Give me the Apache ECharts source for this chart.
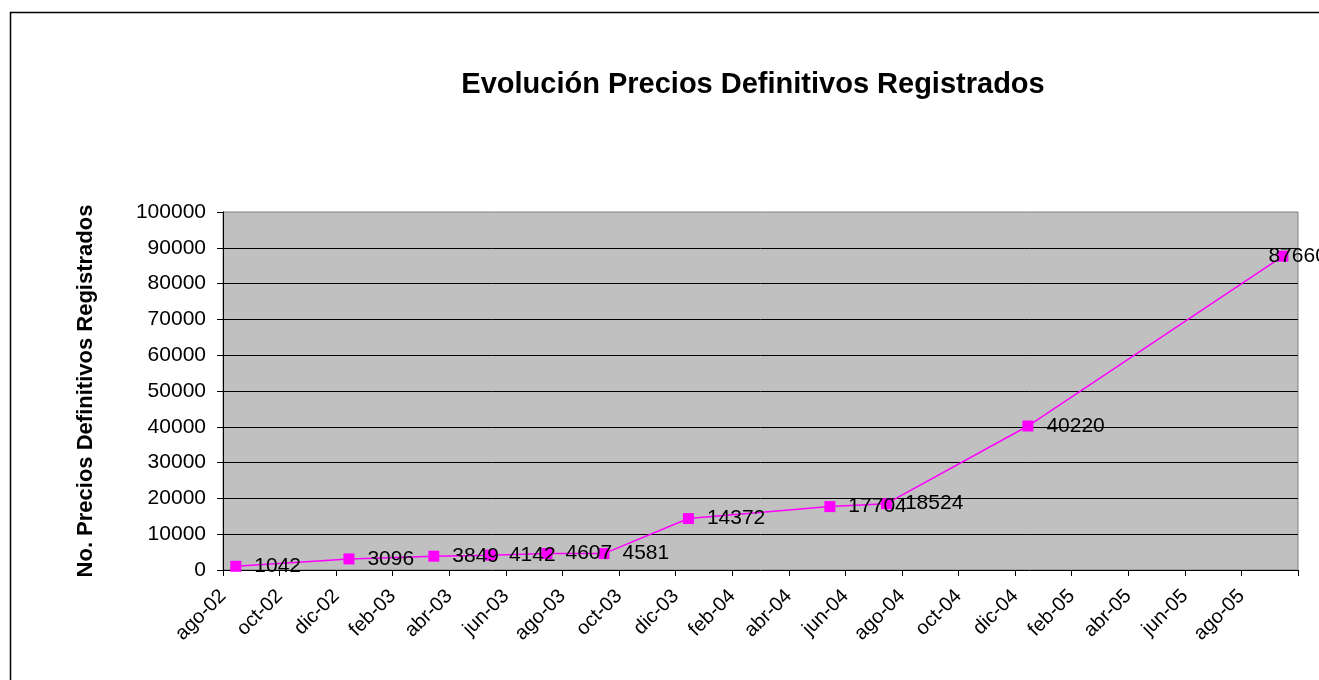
<!DOCTYPE html>
<html>
<head>
<meta charset="utf-8">
<script src="https://cdn.jsdelivr.net/npm/echarts@6/dist/echarts.min.js"></script>
<style>
html,body{margin:0;padding:0;background:#fff;}
#chart{width:1319px;height:680px;}
</style>
</head>
<body>
<div id="chart"></div>
<script>
// Data
var dates = ['2002-08-15','2002-12-15','2003-03-15','2003-05-15','2003-07-15','2003-09-15','2003-12-15','2004-05-15','2004-07-15','2004-12-15','2005-09-15'];
var values = [1042, 3096, 3849, 4142, 4607, 4581, 14372, 17704, 18524, 40220, 87660];
var tickLabels = ['ago-02','oct-02','dic-02','feb-03','abr-03','jun-03','ago-03','oct-03','dic-03','feb-04','abr-04','jun-04','ago-04','oct-04','dic-04','feb-05','abr-05','jun-05','ago-05',''];
var yTicks = [0,10000,20000,30000,40000,50000,60000,70000,80000,90000,100000];

// months elapsed since 2002-08-01 (fractional)
function monthIndex(s){
  var p = s.split('-').map(Number);
  var dim = new Date(p[0], p[1], 0).getDate();
  return (p[0]-2002)*12 + (p[1]-8) + (p[2]-1)/dim;
}
var seriesData = dates.map(function(d,i){
  var item = {value:[monthIndex(d), values[i]]};
  if (i === dates.length-1) {
    item.label = {show:true,position:'right',distance:-20};
  }
  return item;
});

var chart = echarts.init(document.getElementById('chart'));
var FONT = '"Liberation Sans", Arial, sans-serif';
chart.setOption({
  backgroundColor:'#ffffff',
  animation:false,
  graphic:[{
    type:'rect', shape:{x:10.5,y:12.5,width:1330,height:700},
    style:{fill:'none',stroke:'#000',lineWidth:1.5}, silent:true
  }],
  title:{
    text:'Evolución Precios Definitivos Registrados',
    left:748, top:65, textAlign:'center',
    textStyle:{fontFamily:FONT,fontSize:29,fontWeight:'bold',color:'#000'}
  },
  grid:{left:223,right:21,top:212,bottom:110,show:true,backgroundColor:'#C0C0C0',borderColor:'#808080',borderWidth:1},
  xAxis:{
    type:'value', min:0, max:38, interval:2,
    axisLine:{show:true,lineStyle:{color:'#000',width:1}},
    axisTick:{show:true,length:6,lineStyle:{color:'#000'}},
    splitLine:{show:false},
    axisLabel:{
      rotate:45, margin:23, fontFamily:FONT, fontSize:20, color:'#000',
      showMaxLabel:true, showMinLabel:true,
      formatter:function(v){ return tickLabels[Math.round(v/2)] || ''; }
    }
  },
  yAxis:{
    type:'value', min:yTicks[0], max:yTicks[yTicks.length-1], interval:10000,
    name:'No. Precios Definitivos Registrados', nameLocation:'middle', nameGap:126,
    nameTextStyle:{fontFamily:FONT,fontSize:22,fontWeight:'bold',color:'#000'},
    axisLine:{show:true,lineStyle:{color:'#000',width:1}},
    axisTick:{show:true,length:6,lineStyle:{color:'#000'}},
    splitLine:{show:true,showMinLine:false,showMaxLine:false,lineStyle:{color:'#000',width:1}},
    axisLabel:{margin:17,fontFamily:FONT,fontSize:21,color:'#000',formatter:function(v){return String(v);}}
  },
  series:[{
    type:'line', data:seriesData,
    symbol:'rect', symbolSize:11,
    lineStyle:{color:'#FF00FF',width:1.5},
    itemStyle:{color:'#FF00FF'},
    label:{show:true,position:'right',distance:13,fontFamily:FONT,fontSize:21,color:'#000',
      formatter:function(p){ return p.value[1]; }},
    labelLayout:{hideOverlap:false}
  }]
});
</script>
</body>
</html>
